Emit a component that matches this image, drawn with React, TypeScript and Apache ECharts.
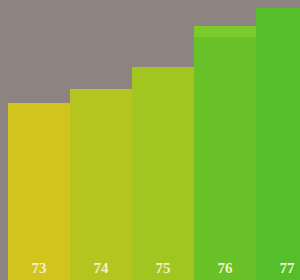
import React, { useEffect, useRef } from "react";
import * as echarts from "echarts";

const categories = ["73", "74", "75", "76", "77"];
const values = [177, 191, 213, 254, 272];
const barColors = ["#d2c41c", "#b6c420", "#a2c620", "#68c126", "#55bf2b"];

export default function App() {
  const ref = useRef<HTMLDivElement>(null);
  useEffect(() => {
    if (!ref.current) return;
    const chart = echarts.init(ref.current, null, { renderer: "svg" });
    chart.setOption({
      animation: false,
      backgroundColor: "#8d8481",
      grid: { left: 8, right: 0, top: 0, bottom: 0 },
      xAxis: {
        type: "category",
        data: categories,
        show: false,
      },
      yAxis: { type: "value", min: 0, max: 280, show: false },
      series: [
        {
          type: "bar",
          barWidth: "100%",
          barCategoryGap: "0%",
          data: values.map((v, i) => ({
            value: v,
            itemStyle: {
              color:
                i === 3
                  ? {
                      type: "linear",
                      x: 0,
                      y: 0,
                      x2: 0,
                      y2: 1,
                      colorStops: [
                        { offset: 0, color: "#7ccb2c" },
                        { offset: 0.043, color: "#7ccb2c" },
                        { offset: 0.044, color: barColors[i] },
                        { offset: 1, color: barColors[i] },
                      ],
                    }
                  : barColors[i],
            },
          })),
          label: {
            show: true,
            position: "insideBottom",
            distance: 5,
            formatter: (p: any) => categories[p.dataIndex],
            color: "#f3efd6",
            fontFamily: "Liberation Serif",
            fontSize: 15,
            fontWeight: "bold",
          },
        },
      ],
    });
    return () => chart.dispose();
  }, []);
  return (
    <div
      style={{
        position: "fixed",
        left: 0,
        top: 0,
        width: 300,
        height: 280,
        overflow: "hidden",
      }}
    >
      <div ref={ref} style={{ width: 318, height: 280 }} />
    </div>
  );
}
